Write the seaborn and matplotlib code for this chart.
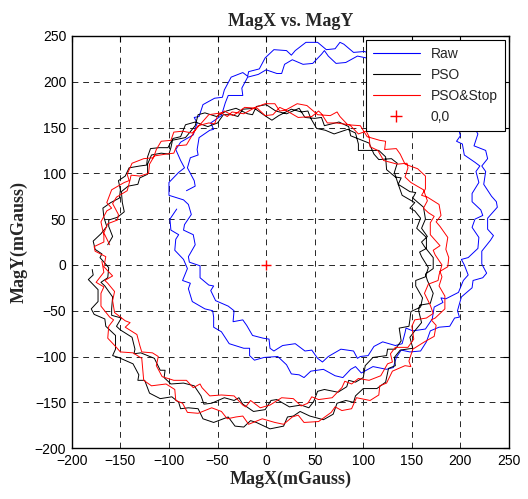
import matplotlib
matplotlib.use("Agg")
import matplotlib.pyplot as plt
import seaborn as sns
import pandas as pd
from matplotlib.lines import Line2D

# ---------------- data (mGauss), (MagX, MagY) samples ----------------
raw_loop1 = [(-92,61),(-99,50),(-98,38),(-90,33),(-93,28),(-94,16),(-85,6),(-81,-4),(-86,-17),(-78,-20),
             (-80,-26),(-76,-40),(-63,-48),(-55,-50),(-54,-57),(-54,-68),(-46,-73),(-38,-86),(-23,-91),(-17,-91),
             (-17,-99),(-12,-104),(-2,-101),(12,-100),(21,-109),(26,-119),(34,-120),(39,-123),(46,-116),(59,-114),
             (71,-121),(79,-123),(87,-114),(92,-111),(98,-118),(110,-111),(124,-114),(131,-112),(134,-101),(139,-93),
             (148,-95),(159,-94),(165,-84),(169,-72),(178,-68),(189,-67),(194,-58),(199,-57),(197,-50),(201,-35),
             (212,-25),(213,-17),(223,-14),(227,-9),(222,1),(222,15),(231,27),(234,32),(228,39),(228,51),
             (238,63),(237,69),(232,75),(224,88),(226,102),(222,108),(228,116),(226,125),(214,130),(218,143),
             (213,152),(205,158),(206,170),(202,175),(189,175),(178,180),(174,192),(175,204),(170,209),(158,207),
             (152,212),(145,223),(132,226),(130,236),(123,236),(110,230),(101,233),(90,232),(80,241),(76,243),
             (71,236),(62,235),(53,243),(41,243),(30,234),(26,229),(21,234),(8,235),(-1,226),(-7,214),
             (-18,211),(-19,206),(-24,210),(-36,205),(-43,191),(-45,183),(-53,182),(-65,175),(-69,162),(-74,161),
             (-71,155),(-75,142),(-88,134),(-93,126),(-88,114),(-84,106),(-90,101),(-100,90),(-100,76),(-85,71)]
raw_loop2 = [(-80,66),(-77,55),(-84,44),(-85,38),(-75,33),(-73,22),(-80,9),(-79,3),(-68,-1),(-68,-14),
             (-59,-22),(-54,-23),(-57,-28),(-52,-39),(-39,-45),(-33,-50),(-34,-62),(-24,-60),(-20,-66),(-14,-77),
             (-3,-80),(3,-81),(4,-91),(8,-94),(17,-88),(30,-86),(40,-94),(47,-93),(53,-102),(58,-106),
             (64,-100),(77,-92),(90,-94),(94,-102),(97,-100),(105,-99),(111,-89),(120,-84),(133,-88),(140,-86),
             (143,-74),(144,-69),(151,-72),(164,-70),(171,-59),(173,-46),(182,-41),(180,-36),(185,-37),(198,-30),
             (203,-17),(208,-11),(204,0),(201,6),(208,8),(218,18),(219,30),(212,41),(215,50),(223,54),
             (221,60),(212,69),(212,78),(219,90),(216,102),(220,108),(215,112),(204,120),(202,132),(196,135),
             (200,141),(197,153),(185,161),(181,166),(185,176),(180,182),(168,181),(157,182),(153,190),(152,202),
             (146,205),(133,206),(124,215),(118,211),(116,216),(111,226),(103,226),(94,228),(82,221),(72,220),
             (64,228),(60,234),(57,230),(48,220),(38,219),(27,224),(19,219),(16,209),(11,209),(0,213),
             (-8,208),(-19,205),(-25,193),(-24,185),(-29,185),(-39,185),(-42,177),(-46,163),(-57,155),(-54,148),
             (-58,147),(-69,139),(-71,126),(-70,120),(-78,117),(-81,106),(-74,92),(-73,86),(-82,81)]

pso_loop1 = [(-179,-5),(-178,-11),(-183,-16),(-173,-27),(-173,-40),(-180,-48),(-177,-54),(-166,-59),(-165,-67),(-155,-77),
             (-155,-92),(-158,-99),(-152,-101),(-137,-108),(-131,-120),(-132,-126),(-125,-126),(-120,-140),(-109,-146),(-97,-144),
             (-90,-150),(-88,-157),(-80,-156),(-70,-157),(-65,-168),(-54,-172),(-39,-166),(-32,-176),(-23,-177),(-16,-170),
             (-10,-172),(4,-179),(18,-176),(22,-166),(28,-165),(35,-160),(45,-165),(59,-169),(69,-163),(73,-151),
             (82,-148),(90,-150),(92,-143),(100,-135),(114,-135),(123,-128),(126,-113),(133,-110),(132,-101),(138,-93),
             (151,-91),(148,-79),(153,-72),(160,-63),(157,-50),(158,-44),(169,-42),(172,-31),(166,-17),(164,-10),
             (172,-4),(172,8),(163,20),(160,25),(166,31),(160,40),(164,50),(162,63),(151,73),(154,79),
             (148,80),(136,88),(132,101),(135,111),(129,116),(116,115),(111,121),(106,133),(94,138),(87,141),
             (85,151),(75,156),(60,152),(57,161),(50,160),(40,161),(34,171),(21,165),(10,168),(0,175),
             (-10,173),(-14,164),(-19,165),(-31,171),(-41,168),(-51,162),(-63,166),(-70,164),(-73,152),(-83,139),
             (-97,136),(-101,128),(-110,128),(-119,127),(-122,118),(-123,109),(-130,108),(-141,106),(-145,97),(-152,92),
             (-150,82),(-151,73),(-160,68),(-168,62),(-167,52),(-164,42),(-170,34),(-178,26),(-176,17),(-169,12)]
pso_loop2 = [(-171,8),(-162,-3),(-163,-14),(-170,-19),(-166,-23),(-158,-35),(-159,-48),(-159,-55),(-149,-58),(-154,-67),
             (-150,-71),(-138,-79),(-135,-92),(-136,-97),(-129,-96),(-115,-102),(-109,-115),(-104,-115),(-105,-123),(-98,-130),
             (-85,-129),(-74,-132),(-67,-143),(-64,-152),(-56,-151),(-43,-145),(-33,-148),(-28,-145),(-24,-152),(-13,-160),
             (-1,-158),(5,-148),(11,-147),(24,-155),(36,-153),(44,-156),(49,-149),(53,-138),(60,-136),(74,-139),
             (83,-133),(85,-126),(92,-128),(100,-123),(102,-110),(110,-101),(124,-99),(125,-92),(133,-92),(139,-83),
             (137,-69),(147,-67),(148,-60),(149,-51),(159,-46),(161,-36),(154,-23),(154,-17),(164,-13),(167,-3),
             (160,9),(158,14),(165,18),(165,30),(155,40),(159,51),(153,59),(148,62),(153,68),(140,76),
             (136,88),(139,95),(133,96),(124,104),(123,118),(116,125),(102,125),(95,125),(95,132),(92,144),
             (84,148),(70,143),(61,147),(52,149),(46,160),(43,168),(36,167),(26,170),(13,163),(6,158),
             (0,162),(-12,171),(-24,170),(-29,162),(-35,164),(-44,164),(-50,155),(-60,151),(-73,156),(-83,153),
             (-88,140),(-96,138),(-98,128),(-100,121),(-108,122),(-118,120),(-122,110),(-122,99),(-130,95),(-132,88),
             (-142,86),(-149,80),(-148,68),(-146,58),(-153,52),(-162,49),(-162,42),(-158,31),(-163,22)]

stop_loop1 = [(-169,4),(-167,-8),(-175,-19),(-167,-24),(-170,-31),(-170,-45),(-161,-57),(-157,-60),(-162,-67),(-163,-80),
              (-155,-89),(-150,-95),(-137,-96),(-128,-102),(-127,-114),(-126,-126),(-118,-132),(-103,-130),(-94,-136),(-93,-148),
              (-86,-151),(-81,-161),(-70,-162),(-56,-156),(-46,-160),(-40,-168),(-31,-166),(-24,-165),(-18,-174),(-4,-168),
              (9,-172),(18,-174),(27,-166),(33,-164),(39,-172),(54,-171),(67,-161),(71,-155),(78,-159),(88,-157),
              (93,-145),(107,-148),(116,-142),(117,-132),(124,-129),(130,-116),(143,-110),(149,-111),(147,-105),(151,-92),
              (163,-84),(173,-78),(175,-66),(170,-60),(174,-58),(184,-48),(184,-34),(178,-23),(181,-13),(179,-7),
              (187,-2),(188,8),(185,17),(187,30),(179,42),(175,47),(180,54),(178,66),(166,74),(160,76),
              (164,83),(164,97),(156,105),(143,110),(138,121),(134,127),(122,126),(123,135),(117,136),(104,140),
              (97,152),(84,153),(76,162),(73,167),(66,163),(53,164),(42,174),(32,176),(20,169),(14,168),
              (9,176),(-1,176),(-11,172),(-23,165),(-35,167),(-40,162),(-46,166),(-59,164),(-69,152),(-76,144),
              (-86,146),(-95,145),(-98,136),(-108,135),(-113,126),(-116,117),(-126,116),(-138,111),(-143,99),(-141,92),
              (-146,90),(-159,82),(-164,68),(-159,62),(-164,59),(-170,47),(-167,32),(-167,25),(-177,20),(-176,15)]
stop_loop2 = [(-165,9),(-167,-2),(-158,-12),(-166,-17),(-163,-20),(-156,-29),(-158,-39),(-156,-52),(-145,-61),(-140,-63),
              (-145,-68),(-133,-76),(-130,-88),(-128,-95),(-117,-96),(-111,-100),(-113,-110),(-107,-122),(-95,-126),(-82,-126),
              (-75,-134),(-68,-130),(-66,-134),(-58,-143),(-46,-142),(-33,-143),(-24,-153),(-21,-155),(-16,-148),(-6,-156),
              (4,-153),(16,-145),(28,-146),(36,-154),(43,-151),(47,-144),(54,-147),(68,-145),(78,-134),(81,-127),
              (88,-130),(95,-124),(106,-126),(118,-121),(125,-108),(130,-106),(128,-97),(133,-90),(146,-90),(152,-81),
              (150,-67),(153,-60),(165,-58),(172,-53),(169,-44),(163,-31),(167,-21),(177,-17),(178,-11),(181,0),
              (174,11),(172,16),(179,21),(169,33),(169,46),(173,53),(167,57),(162,62),(166,70),(162,82),
              (149,90),(143,96),(146,106),(145,111),(135,110),(121,114),(115,125),(107,129),(106,140),(103,146),
              (95,143),(86,153),(72,155),(63,155),(57,165),(54,168),(47,162),(33,161),(20,169),(14,172),
              (7,164),(-1,163),(-9,171),(-22,172),(-34,163),(-43,168),(-50,163),(-53,154),(-59,155),(-70,152),
              (-77,140),(-82,131),(-92,130),(-95,122),(-103,121),(-115,119),(-120,110),(-121,100),(-130,97),(-139,98),
              (-140,93),(-143,81),(-154,74),(-158,67),(-152,55),(-153,49),(-163,45),(-167,35),(-161,22)]

origin_x = [0]
origin_y = [0]

series_labels = ["Raw", "PSO", "PSO&Stop", "0,0"]
ticks = [-200, -150, -100, -50, 0, 50, 100, 150, 200, 250]


def to_frame(*loops):
    pts = [p for loop in loops for p in loop]
    return pd.DataFrame({"MagX": [p[0] for p in pts], "MagY": [p[1] for p in pts]})


raw_df = to_frame(raw_loop1, raw_loop2)
pso_df = to_frame(pso_loop1, pso_loop2)
stop_df = to_frame(stop_loop1, stop_loop2)

# ---------------- style ----------------
sns.set_style("white")
plt.rcParams['font.family'] = ['Liberation Sans', 'DejaVu Sans']

fig = plt.figure(figsize=(5.28, 4.99), dpi=100)
ax = fig.add_axes([0.136, 0.102, 0.828, 0.826])

sns.lineplot(data=raw_df, x="MagX", y="MagY", sort=False, estimator=None, color="#0000ff", linewidth=0.7, ax=ax)
sns.lineplot(data=pso_df, x="MagX", y="MagY", sort=False, estimator=None, color="black", linewidth=0.7, ax=ax)
sns.lineplot(data=stop_df, x="MagX", y="MagY", sort=False, estimator=None, color="#ff0000", linewidth=0.7, ax=ax)
sns.scatterplot(x=origin_x, y=origin_y, marker="+", color="#ff0000", s=60, linewidth=1.0, ax=ax, zorder=5)

ax.set_xlim(-200, 250)
ax.set_ylim(-200, 250)
ax.set_xticks(ticks)
ax.set_yticks(ticks)
ax.set_axisbelow(True)
ax.grid(True, color="0.15", linestyle=(0, (6, 5)), linewidth=0.7)
ax.tick_params(direction="in", top=True, right=True, length=4, width=0.8,
               labelsize=10, colors="k", pad=4)
for s in ax.spines.values():
    s.set_color("k")
    s.set_linewidth(1.0)

serif = ['Liberation Serif', 'DejaVu Serif']
ax.set_title("MagX vs. MagY", fontfamily=serif, fontweight="bold", fontsize=13, pad=7)
ax.set_xlabel("MagX(mGauss)", fontfamily=serif, fontweight="bold", fontsize=13, labelpad=2)
ax.set_ylabel("MagY(mGauss)", fontfamily=serif, fontweight="bold", fontsize=13, labelpad=5)

handles = [Line2D([], [], color="#0000ff", lw=0.8),
           Line2D([], [], color="black", lw=0.8),
           Line2D([], [], color="#ff0000", lw=0.8),
           Line2D([], [], color="#ff0000", marker="+", linestyle="None", markersize=8, markeredgewidth=1)]
leg = ax.legend(handles, series_labels, loc="upper right", bbox_to_anchor=(1, 1),
                borderaxespad=0.3, frameon=True, fancybox=False, edgecolor="k",
                framealpha=1, fontsize=10, handlelength=3.4, labelspacing=0.5,
                borderpad=0.5, handletextpad=0.8)
leg.get_frame().set_linewidth(0.8)

fig.savefig("out.png", dpi=100)
